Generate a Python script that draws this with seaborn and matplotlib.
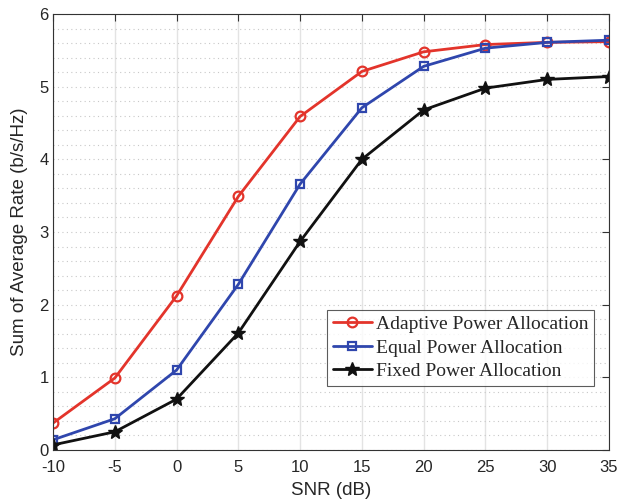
import matplotlib
matplotlib.use("Agg")
import matplotlib.pyplot as plt
import seaborn as sns
import pandas as pd
from matplotlib.ticker import MultipleLocator

snr = [-10, -5, 0, 5, 10, 15, 20, 25, 30, 35]
adaptive = [0.37, 0.99, 2.12, 3.49, 4.59, 5.21, 5.48, 5.58, 5.61, 5.62]
equal = [0.14, 0.43, 1.10, 2.28, 3.66, 4.71, 5.28, 5.53, 5.61, 5.64]
fixed = [0.07, 0.25, 0.70, 1.61, 2.87, 4.00, 4.68, 4.98, 5.10, 5.14]
labels = ["Adaptive Power Allocation", "Equal Power Allocation", "Fixed Power Allocation"]

sns.set_style("white")
plt.rcParams['font.family'] = ['Liberation Sans', 'DejaVu Sans']

fig = plt.figure(figsize=(6.17, 5.01), dpi=100)
ax = fig.add_axes([0.0859, 0.1018, 0.9011, 0.8702])

colors = ["#e3342b", "#2f46ad", "#111111"]
styles = [
    dict(marker="o", markersize=7, markerfacecolor="none", markeredgewidth=1.6),
    dict(marker="s", markersize=5.5, markerfacecolor="none", markeredgewidth=1.6),
    dict(marker="*", markersize=10.5, markeredgewidth=1.0),
]
for vals, lab, st, c in zip([adaptive, equal, fixed], labels, styles, colors):
    df = pd.DataFrame({"SNR": snr, "Rate": vals})
    sns.lineplot(data=df, x="SNR", y="Rate", ax=ax, label=lab, linewidth=2,
                 color=c, linestyle="-", markeredgecolor=c, **st)

for ln in ax.get_lines():
    ln.set_linestyle("-")
    ln.set_dashes([])

ax.set_xlim(-10, 35)
ax.set_ylim(0, 6)
ax.set_xticks(snr)
ax.set_xticklabels([str(v) for v in snr])
ax.set_yticks(range(0, 7))
ax.yaxis.set_minor_locator(MultipleLocator(0.2))
ax.grid(True, which="major", axis="x", color="#e3e3e3", linewidth=1.0, linestyle="-")
ax.grid(True, which="both", axis="y", color="#c8c8c8", linewidth=0.8, linestyle=(0, (1, 3)))
ax.set_axisbelow(True)
ax.tick_params(which="major", direction="in", top=True, right=True, length=5,
               labelsize=12, color="#333333", width=0.8)
ax.tick_params(axis="x", which="major", pad=7)
ax.tick_params(axis="y", which="major", pad=3)
ax.tick_params(which="minor", length=0)
for s in ax.spines.values():
    s.set_color("#333333")
    s.set_linewidth(0.8)
ax.set_xlabel("SNR (dB)", fontsize=13.5, labelpad=5)
ax.set_ylabel("Sum of Average Rate (b/s/Hz)", fontsize=13.5, labelpad=8)

leg = ax.legend(loc="lower right", bbox_to_anchor=(0.973, 0.147),
                prop={"family": "Liberation Serif", "size": 14},
                frameon=True, fancybox=False, edgecolor="#333333",
                handlelength=2.0, borderpad=0.3, labelspacing=0.3, handletextpad=0.2,
                borderaxespad=0.0)
leg.get_frame().set_linewidth(0.8)
for h in leg.get_lines():
    h.set_linestyle("-")

fig.savefig("out.png", dpi=100)
